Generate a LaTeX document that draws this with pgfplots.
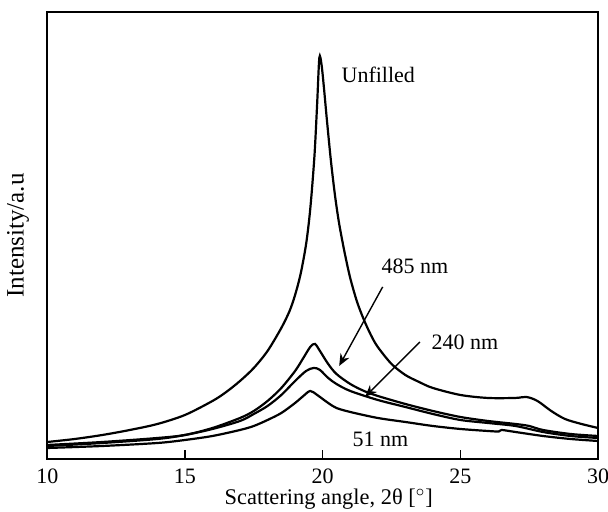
\documentclass[border=0pt]{standalone}
\usepackage{pgfplots}
\pgfplotsset{compat=1.18}
\usetikzlibrary{arrows.meta}
\usepackage{fontspec}
\setmainfont{Liberation Serif}
\begin{document}
\fontsize{11pt}{13pt}\selectfont
\begin{tikzpicture}
\begin{axis}[
  at={(0,0)}, anchor=south west,
  scale only axis,
  width=275.35pt, height=223.5pt,
  xmin=10, xmax=30, ymin=0, ymax=446.7,
  xtick={10,15,20,25,30},
  xtick pos=bottom,
  ytick=\empty,
  tick align=inside,
  major tick length=4.5pt,
  axis line style={line width=1pt},
  every tick/.style={black, line width=0.6pt},
  xlabel={Scattering angle, 2θ [$^{\circ}$]},
  ylabel={Intensity/a.u},
  xlabel style={at={(axis description cs:0.511,-0.0895)}, anchor=center, font=\fontsize{11.2pt}{13pt}\selectfont},
  ylabel style={at={(axis description cs:-0.0532,0.5)}, anchor=center, font=\fontsize{12.5pt}{14pt}\selectfont},
  xticklabel style={font=\fontsize{11pt}{13pt}\selectfont, yshift=-1pt},
  /pgf/number format/assume math mode=true,
  clip=true,
]
% Unfilled
\addplot[black, line width=1.1pt, no marks, smooth, tension=0.5] coordinates {
(10,17) (11,20) (12,24) (13,29) (14,35) (15,44) (16,58) (16.5,67) (17,78) (17.5,91) (18,108) (18.5,131) (18.8,148) (19,164) (19.2,185) (19.4,215) (19.55,250) (19.7,302) (19.8,355) (19.88,401) (19.96,394) (20.05,370) (20.15,340) (20.3,298) (20.45,263) (20.6,235) (20.8,206) (21,181) (21.25,157) (21.5,139) (21.75,124) (22,112) (22.5,95) (23,84) (23.5,77) (24,71) (25,64) (26,61) (27,61) (27.4,62) (27.8,58) (28.3,48) (28.8,40) (29.4,35) (30,31)
};
% 485 nm
\addplot[black, line width=1.1pt, no marks, smooth, tension=0.5] coordinates {
(10,14) (12,17) (14,21) (15,24) (16,31) (17,41) (17.5,48) (18,58) (18.5,71) (19,88) (19.3,101) (19.55,112) (19.72,115) (19.9,108) (20.2,95) (20.5,85) (21,75) (21.5,68) (22,63) (23,55) (24,48) (25,42) (26,38) (27,35) (27.5,33) (28,29) (29,25) (30,23)
};
% 240 nm
\addplot[black, line width=1.1pt, no marks, smooth, tension=0.5] coordinates {
(10,13) (12,16) (14,20) (15,24) (16,30) (17,38) (17.5,45) (18,53) (18.5,64) (19,78) (19.4,88) (19.68,91) (19.9,89) (20.2,81) (20.5,75) (21,68) (22,59) (23,52) (24,45) (25,39) (26,36) (27,33) (28,27) (29,23) (30,21)
};
% 51 nm
\addplot[black, line width=1.1pt, no marks, smooth, tension=0.5] coordinates {
(10,11) (12,13) (14,16) (15,19) (16,23) (17,29) (17.5,33) (18,39) (18.5,46) (19,56) (19.3,63) (19.55,68) (19.8,64) (20.2,56) (20.5,51) (21,47) (22,41) (23,37) (24,33) (25,30) (26,28) (26.4,27.5) (26.5,29) (27,27) (28,23) (29,20) (30,18)
};
\node at (axis cs:22.02,384) {Unfilled};
\node at (axis cs:23.35,193) {485 nm};
\node at (axis cs:25.17,117) {240 nm};
\node at (axis cs:22.1,20) {51 nm};
\draw[-{Stealth[length=6pt,width=5pt]}, line width=0.7pt] (axis cs:22.18,172) -- (axis cs:20.6,93);
\draw[-{Stealth[length=6pt,width=5pt]}, line width=0.7pt] (axis cs:23.53,117) -- (axis cs:21.54,62);
\end{axis}
\pgfresetboundingbox
\path (-23.65pt,-26.5pt) rectangle (280.35pt,229.5pt);
\end{tikzpicture}
\end{document}
